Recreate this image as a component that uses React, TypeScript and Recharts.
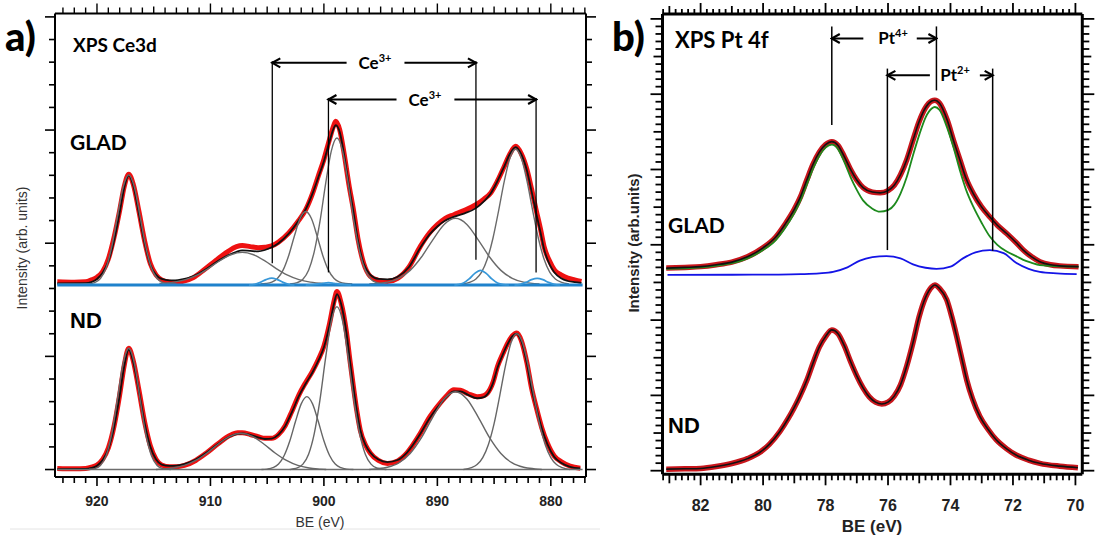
import { ComposedChart, Line, XAxis, YAxis, ReferenceLine } from 'recharts'

type P = [number, number]
const toPts = (a: P[]) => a.map(([x, y]) => ({ x, y }))

// ---------- panel a: XPS Ce3d (BE in eV, intensity in arb. units) ----------
const ceGladData: P[] = [
  [923.5, 8.3], [922, 8.28], [921, 8.3], [920.5, 8.38], [920, 8.5], [919.5, 8.75], [919, 9.3], [918.5, 10.25], [918, 11.45],
  [917.6, 12.5], [917.2, 13.05], [916.8, 12.6], [916.3, 11.4], [915.8, 10.1], [915.3, 9.1], [914.8, 8.6], [914.3, 8.38],
  [913.6, 8.28], [913.1, 8.25], [912.5, 8.3], [911.5, 8.48], [910.5, 8.85], [909.5, 9.25], [908.5, 9.62], [907.7, 9.85],
  [907.2, 9.9], [906.5, 9.85], [905.8, 9.8], [905.2, 9.82], [904.6, 9.88], [904, 10.05], [903.1, 10.45], [902.3, 10.95],
  [901.6, 11.48], [901, 12.2], [900.5, 12.96], [900, 13.7], [899.5, 14.6], [899.1, 15.25], [898.95, 15.39], [898.6, 15.0],
  [898.2, 13.9], [897.8, 12.6], [897.4, 11.48], [897, 10.2], [896.5, 9.12], [895.9, 8.53], [895.2, 8.36], [894.4, 8.31],
  [893.5, 8.45], [892.5, 8.95], [891.5, 9.86], [890.7, 10.45], [890, 10.82], [889.3, 11.1], [888.55, 11.26], [887.6, 11.45],
  [886.6, 11.7], [885.9, 11.95], [885.3, 12.22], [884.7, 12.75], [884.1, 13.4], [883.6, 13.95], [883.1, 14.28], [882.6, 13.95],
  [882.1, 13.25], [881.7, 12.4], [881.3, 11.48], [880.9, 10.6], [880.6, 9.86], [880.1, 9.2], [879.7, 8.83], [879.1, 8.6],
  [878.5, 8.46], [877.9, 8.38], [877.3, 8.31],
]
const ceGladFit: P[] = [
  [923.5, 8.22], [921, 8.23], [920.5, 8.28], [920, 8.42], [919.5, 8.7], [919, 9.2], [918.5, 10.1], [918, 11.35],
  [917.6, 12.45], [917.2, 13.0], [916.8, 12.55], [916.3, 11.3], [915.8, 10.0], [915.3, 9.05], [914.8, 8.6], [914.3, 8.42],
  [913.6, 8.36], [913.1, 8.36], [912.5, 8.4], [911.5, 8.55], [910.5, 8.82], [909.5, 9.16], [908.5, 9.45], [907.7, 9.62],
  [907.2, 9.68], [906.5, 9.66], [905.8, 9.64], [905.2, 9.7], [904.6, 9.82], [904, 10.0], [903.1, 10.42], [902.3, 10.95],
  [901.6, 11.5], [901, 12.2], [900.5, 12.9], [900, 13.62], [899.5, 14.5], [899.1, 15.12], [898.95, 15.22], [898.6, 14.9],
  [898.2, 13.85], [897.8, 12.55], [897.4, 11.4], [897, 10.12], [896.5, 9.1], [895.9, 8.6], [895.2, 8.42], [894.4, 8.4],
  [893.5, 8.52], [892.5, 8.95], [891.5, 9.8], [890.7, 10.38], [890, 10.74], [889.3, 11.0], [888.55, 11.16], [887.6, 11.32],
  [886.6, 11.55], [885.9, 11.85], [885.3, 12.2], [884.7, 12.75], [884.1, 13.4], [883.6, 13.95], [883.1, 14.25],
  [882.6, 13.92], [882.1, 13.2], [881.7, 12.3], [881.3, 11.35], [880.9, 10.45], [880.6, 9.75], [880.1, 9.05], [879.7, 8.72],
  [879.1, 8.45], [878.5, 8.33], [877.9, 8.28], [877.3, 8.25],
]
const ceGladPeaks: P[][] = [
  [[923.5, 8.2], [920.7, 8.21], [920.2, 8.26], [919.7, 8.44], [919.2, 8.9], [918.7, 9.84], [918.2, 11.18], [917.7, 12.47],
    [917.2, 13.02], [916.7, 12.47], [916.2, 11.18], [915.7, 9.84], [915.2, 8.9], [914.7, 8.44], [914.2, 8.26], [913.7, 8.21],
    [913, 8.2]],
  [[914.5, 8.22], [913.2, 8.28], [912.2, 8.39], [911.2, 8.59], [910.2, 8.88], [909.2, 9.22], [908.2, 9.49], [907.2, 9.6],
    [906.2, 9.49], [905.2, 9.22], [904.2, 8.88], [903.2, 8.59], [902.2, 8.39], [901.2, 8.28], [900, 8.22]],
  [[905.6, 8.2], [905.1, 8.22], [904.6, 8.28], [904.1, 8.44], [903.6, 8.81], [903.1, 9.46], [902.6, 10.32], [902.1, 11.09],
    [901.6, 11.4], [901.1, 11.09], [900.6, 10.32], [900.1, 9.46], [899.6, 8.81], [899.1, 8.44], [898.6, 8.28], [898.1, 8.22],
    [897.5, 8.2]],
  [[903, 8.2], [902.35, 8.26], [901.85, 8.41], [901.35, 8.81], [900.85, 9.63], [900.35, 10.95], [899.85, 12.62],
    [899.35, 14.07], [898.85, 14.65], [898.35, 14.07], [897.85, 12.62], [897.35, 10.95], [896.85, 9.63], [896.35, 8.81],
    [895.85, 8.41], [895.35, 8.26], [894.7, 8.2]],
  [[896, 8.2], [894.4, 8.28], [893.4, 8.45], [892.4, 8.8], [891.4, 9.39], [890.4, 10.15], [889.4, 10.83], [888.4, 11.1],
    [887.4, 10.83], [886.4, 10.15], [885.4, 9.39], [884.4, 8.8], [883.4, 8.45], [882.4, 8.28], [881, 8.2]],
  [[887.8, 8.2], [887.1, 8.28], [886.6, 8.42], [886.1, 8.72], [885.6, 9.3], [885.1, 10.22], [884.6, 11.44], [884.1, 12.74],
    [883.6, 13.76], [883.1, 14.15], [882.6, 13.76], [882.1, 12.74], [881.6, 11.44], [881.1, 10.22], [880.6, 9.3],
    [880.1, 8.72], [879.6, 8.42], [879.1, 8.28], [878.4, 8.2]],
]
const ceGladCe3: P[][] = [
  [[906.6, 8.15], [906.1, 8.18], [905.6, 8.27], [905.1, 8.39], [904.6, 8.46], [904.1, 8.39], [903.6, 8.27], [903.1, 8.18], [902.6, 8.15]],
  [[901.6, 8.15], [900.6, 8.19], [900.1, 8.23], [899.6, 8.26], [899.1, 8.23], [898.6, 8.19], [897.6, 8.15]],
  [[888.5, 8.15], [888.2, 8.17], [887.7, 8.24], [887.2, 8.42], [886.7, 8.67], [886.2, 8.8], [885.7, 8.67], [885.2, 8.42],
    [884.7, 8.24], [884.2, 8.17], [883.7, 8.15]],
  [[883.2, 8.15], [882.7, 8.18], [882.2, 8.27], [881.7, 8.39], [881.2, 8.45], [880.7, 8.39], [880.2, 8.27], [879.7, 8.18], [879.2, 8.15]],
]
const ceGladBase: P[] = [[923.5, 8.15], [877.2, 8.15]]

const ceNdData: P[] = [
  [923.5, 0.05], [922, 0.03], [921, 0.05], [920.5, 0.1], [920, 0.2], [919.5, 0.45], [919, 0.95], [918.5, 1.9], [918, 3.3],
  [917.6, 4.6], [917.2, 5.36], [916.8, 4.8], [916.3, 3.5], [915.8, 2.1], [915.3, 1.05], [914.8, 0.45], [914.3, 0.2],
  [913.6, 0.12], [913, 0.12], [912.3, 0.18], [911.3, 0.4], [910.3, 0.75], [909.3, 1.15], [908.3, 1.5], [907.6, 1.62],
  [907.2, 1.62], [906.5, 1.55], [905.8, 1.45], [905.2, 1.38], [904.6, 1.38], [904, 1.55], [903.4, 1.95], [902.8, 2.6],
  [902.2, 3.3], [901.6, 3.85], [901, 4.35], [900.5, 4.85], [900, 5.45], [899.5, 6.45], [899.1, 7.45], [898.85, 7.87],
  [898.5, 7.4], [898, 6.03], [897.7, 4.8], [897.4, 3.66], [897.1, 2.6], [896.8, 1.75], [896.3, 1.05], [895.9, 0.72],
  [895.2, 0.4], [894.4, 0.27], [893.5, 0.38], [892.7, 0.72], [891.5, 1.6], [890.7, 2.3], [890, 2.78], [889.2, 3.25],
  [888.55, 3.52], [887.97, 3.5], [887.3, 3.35], [886.5, 3.22], [885.9, 3.27], [885.6, 3.37], [885.1, 3.85], [884.7, 4.55],
  [884.2, 5.15], [883.8, 5.58], [883.4, 5.9], [883.0, 6.03], [882.6, 5.7], [882.1, 4.7], [881.7, 3.6], [881.3, 2.78],
  [880.8, 1.85], [880.3, 1.16], [879.7, 0.6], [879.1, 0.35], [878.3, 0.15], [877.4, 0.06],
]
const ceNdFit: P[] = [
  [923.5, 0.02], [921, 0.03], [920.5, 0.07], [920, 0.17], [919.5, 0.42], [919, 0.9], [918.5, 1.85], [918, 3.25],
  [917.6, 4.55], [917.2, 5.3], [916.8, 4.75], [916.3, 3.45], [915.8, 2.05], [915.3, 1.02], [914.8, 0.45], [914.3, 0.22],
  [913.6, 0.16], [913, 0.17], [912.3, 0.24], [911.3, 0.44], [910.3, 0.76], [909.3, 1.14], [908.3, 1.46], [907.6, 1.58],
  [907.2, 1.6], [906.5, 1.53], [905.8, 1.42], [905.2, 1.35], [904.6, 1.37], [904, 1.54], [903.4, 1.93], [902.8, 2.56],
  [902.2, 3.25], [901.6, 3.8], [901, 4.3], [900.5, 4.8], [900, 5.4], [899.5, 6.38], [899.1, 7.35], [898.85, 7.75],
  [898.5, 7.35], [898, 6.0], [897.7, 4.78], [897.4, 3.64], [897.1, 2.6], [896.8, 1.76], [896.3, 1.06], [895.9, 0.74],
  [895.2, 0.44], [894.4, 0.33], [893.5, 0.42], [892.7, 0.74], [891.5, 1.58], [890.7, 2.26], [890, 2.74], [889.2, 3.2],
  [888.55, 3.45], [887.97, 3.45], [887.3, 3.3], [886.5, 3.15], [885.9, 3.2], [885.6, 3.32], [885.1, 3.82], [884.7, 4.5],
  [884.2, 5.12], [883.8, 5.55], [883.4, 5.88], [883.0, 6.0], [882.6, 5.68], [882.1, 4.68], [881.7, 3.58], [881.3, 2.75],
  [880.8, 1.82], [880.3, 1.12], [879.7, 0.56], [879.1, 0.3], [878.3, 0.12], [877.4, 0.05],
]
const ceNdPeaks: P[][] = [
  [[920.7, 0.01], [920.2, 0.04], [919.7, 0.18], [919.2, 0.61], [918.7, 1.58], [918.2, 3.11], [917.7, 4.68], [917.2, 5.36],
    [916.7, 4.68], [916.2, 3.11], [915.7, 1.58], [915.2, 0.61], [914.7, 0.18], [914.2, 0.04], [913.5, 0]],
  [[914.8, 0], [914.3, 0.02], [913.3, 0.07], [912.3, 0.18], [911.3, 0.4], [910.3, 0.73], [909.3, 1.13], [908.3, 1.47],
    [907.3, 1.6], [906.3, 1.47], [905.3, 1.13], [904.3, 0.73], [903.3, 0.4], [902.3, 0.18], [901.3, 0.07], [900.3, 0.02],
    [899.8, 0]],
  [[905.5, 0], [905, 0.02], [904.5, 0.08], [904, 0.24], [903.5, 0.62], [903, 1.27], [902.5, 2.13], [902, 2.9], [901.5, 3.22],
    [901, 2.9], [900.5, 2.13], [900, 1.27], [899.5, 0.62], [899, 0.24], [898.5, 0.08], [898, 0.02], [897.4, 0]],
  [[903, 0], [902.85, 0.02], [902.35, 0.07], [901.85, 0.24], [901.35, 0.68], [900.85, 1.59], [900.35, 3.07], [899.85, 4.93],
    [899.35, 6.55], [898.85, 7.2], [898.35, 6.55], [897.85, 4.93], [897.35, 3.07], [896.85, 1.59], [896.35, 0.68],
    [895.85, 0.24], [895.35, 0.07], [894.85, 0.02], [894.5, 0]],
  [[896, 0], [895.4, 0.03], [894.4, 0.1], [893.4, 0.29], [892.4, 0.71], [891.4, 1.41], [890.4, 2.32], [889.4, 3.12],
    [888.4, 3.44], [887.4, 3.12], [886.4, 2.32], [885.4, 1.41], [884.4, 0.71], [883.4, 0.29], [882.4, 0.1], [881.4, 0.03],
    [880.8, 0]],
  [[887.7, 0], [887, 0.08], [886.5, 0.22], [886, 0.53], [885.5, 1.11], [885, 2.03], [884.5, 3.27], [884, 4.58], [883.5, 5.61],
    [883, 6.0], [882.5, 5.61], [882, 4.58], [881.5, 3.27], [881, 2.03], [880.5, 1.11], [880, 0.53], [879.5, 0.22],
    [879, 0.08], [878.3, 0]],
]
const ceNdBase: P[] = [[923.5, 0], [877.2, 0]]

// Ce3+ markers: [BE, top], with bottoms alongside
const ceMarkers: P[] = [[904.55, 18.04], [886.6, 18.04], [899.6, 16.42], [881.3, 16.42]]
const ceMarkerBottoms = [9.12, 9.27, 8.71, 8.71]
// arrow segments: [from BE, to BE, level]
const ceArrows: [number, number, number][] = [
  [898.0, 904.55, 17.97], [892.9, 886.6, 17.97], [893.6, 899.6, 16.35], [888.5, 881.3, 16.35],
]

// ---------- panel b: XPS Pt 4f ----------
const ptGlad: P[] = [
  [83.1, 26.9], [82.5, 27.0], [82, 27.1], [81.5, 27.35], [81, 27.7], [80.5, 28.4], [80, 29.6], [79.6, 31.0], [79.3, 32.7],
  [79, 34.7], [78.8, 36.4], [78.6, 38.6], [78.4, 40.7], [78.2, 42.3], [78, 43.3], [77.8, 43.7], [77.6, 43.2], [77.4, 41.7],
  [77.2, 40.0], [77, 38.6], [76.8, 37.6], [76.5, 37.0], [76.25, 36.9], [76, 37.2], [75.8, 37.9], [75.6, 39.3], [75.4, 41.3],
  [75.2, 43.9], [75, 46.4], [74.8, 48.2], [74.6, 49.1], [74.5, 49.2], [74.35, 48.8], [74.1, 46.5], [73.9, 43.8], [73.7, 41.3],
  [73.5, 38.8], [73.27, 36.8], [73, 35.0], [72.74, 33.7], [72.5, 32.6], [72.2, 31.5], [71.9, 30.3], [71.67, 29.3],
  [71.4, 28.4], [71.14, 27.76], [70.8, 27.35], [70.5, 27.2], [69.9, 27.1],
]
const ptGladPt4: P[] = [
  [83.1, 26.8], [82, 27.0], [81, 27.55], [80.5, 28.2], [80, 29.3], [79.6, 30.6], [79.3, 32.2], [79, 34.2], [78.8, 35.9],
  [78.6, 38.0], [78.4, 40.1], [78.2, 41.8], [78, 42.9], [77.8, 43.3], [77.6, 42.7], [77.4, 41.0], [77.2, 39.0], [77, 37.3],
  [76.8, 35.9], [76.5, 34.8], [76.26, 34.4], [76, 34.6], [75.8, 35.3], [75.6, 36.8], [75.4, 39.0], [75.2, 41.9], [75, 44.6],
  [74.8, 46.9], [74.6, 48.1], [74.5, 48.3], [74.35, 47.9], [74.12, 45.7], [73.9, 42.9], [73.7, 39.9], [73.5, 37.3],
  [73.27, 35.06], [73, 32.9], [72.74, 31.1], [72.5, 30.0], [72.2, 29.1], [71.9, 28.5], [71.67, 28.0], [71.4, 27.6],
  [71.14, 27.3], [70.8, 27.2], [70.5, 27.15], [69.9, 27.1],
]
const ptGladPt2: P[] = [
  [83.06, 26.0], [81, 26.02], [79.5, 26.05], [78.8, 26.1], [78.2, 26.2], [77.76, 26.4], [77.3, 27.0], [76.9, 27.9],
  [76.5, 28.35], [76.05, 28.5], [75.6, 28.2], [75.2, 27.4], [74.8, 26.95], [74.45, 26.8], [74.0, 27.1], [73.6, 28.2],
  [73.2, 29.0], [72.74, 29.3], [72.3, 28.9], [71.9, 27.6], [71.5, 26.8], [71.14, 26.4], [70.6, 26.2], [69.96, 26.1],
]
const ptNd: P[] = [
  [83.1, 0.2], [82.5, 0.25], [82, 0.3], [81.5, 0.55], [81, 0.95], [80.5, 1.6], [80.1, 2.45], [79.8, 3.5], [79.46, 5.2],
  [79.2, 6.9], [79, 8.4], [78.82, 9.9], [78.6, 12.0], [78.4, 14.3], [78.2, 16.4], [78, 17.8], [77.8, 18.7], [77.6, 18.2],
  [77.4, 16.6], [77.2, 14.5], [77, 12.6], [76.8, 11.0], [76.6, 9.8], [76.4, 9.1], [76.2, 8.86], [76, 9.1], [75.8, 9.9],
  [75.6, 11.4], [75.4, 13.9], [75.2, 17.0], [75, 20.5], [74.8, 23.0], [74.6, 24.4], [74.5, 24.66], [74.35, 24.2],
  [74.12, 22.7], [73.95, 20.3], [73.8, 17.8], [73.6, 14.2], [73.48, 12.05], [73.3, 9.6], [73.06, 7.2], [72.8, 5.5],
  [72.53, 4.08], [72.2, 2.9], [71.9, 2.08], [71.5, 1.4], [71.14, 0.98], [70.5, 0.6], [69.92, 0.4],
]
const ptMarkers: P[] = [[77.8, 59.0], [74.45, 59.0], [76.02, 53.4], [72.65, 53.4]]
const ptMarkerBottoms = [45.9, 50.5, 29.3, 29.2]
const ptArrows: [number, number, number][] = [
  [76.79, 77.8, 57.4], [75.08, 74.45, 57.4], [74.66, 76.02, 52.5], [73.06, 72.65, 52.5],
]

// ticks
const ceTicksX = Array.from({ length: 47 }, (_, i) => 877 + i)
const ceTicksY = Array.from({ length: 21 }, (_, i) => i)
const ptTicksX = Array.from({ length: 67 }, (_, i) => Math.round((70 + i * 0.2) * 10) / 10)
const ptTicksY = Array.from({ length: 61 }, (_, i) => i)

const SANS = '"Liberation Sans", Arial, sans-serif'
const HUMAN = 'Lato, "Open Sans", sans-serif'

type Kind = (v: number) => number

const kindCeX: Kind = (v) => (v % 10 === 0 ? 2 : v % 5 === 0 ? 1 : 0)
const kindCeY: Kind = (v) => (v % 5 === 0 ? 2 : 0)
const kindPtX: Kind = (v) => {
  const t = Math.round(v * 10)
  return t % 20 === 0 ? 2 : t % 10 === 0 ? 1 : 0
}
const kindPtY: Kind = (v) => (v % 10 === 0 ? 2 : v % 5 === 0 ? 1 : 0)

function AxisTick(props: any) {
  const { x, y, payload, side, kind, lens, label, labelDy, fontSize, sw } = props
  const k = kind(payload.value)
  const len = lens[k]
  let x2 = x
  let y2 = y
  if (side === 'bottom') y2 = y + len
  if (side === 'top') y2 = y - len
  if (side === 'left') x2 = x - len
  if (side === 'right') x2 = x + len
  return (
    <g>
      <line x1={x} y1={y} x2={x2} y2={y2} stroke="#000" strokeWidth={sw} />
      {label && k === 2 && (
        <text x={x} y={y + labelDy} textAnchor="middle" fontFamily={SANS} fontWeight="bold" fontSize={fontSize} fill="#222">
          {Math.round(payload.value)}
        </text>
      )}
    </g>
  )
}

const arrowShape = (p: any) => (
  <line x1={p.x1} y1={p.y1} x2={p.x2} y2={p.y2} stroke="#000" strokeWidth={2} markerEnd="url(#chev)" />
)

function CePanel() {
  const axisLine = { stroke: '#000', strokeWidth: 2 }
  const common = { isAnimationActive: false, dot: false, type: 'monotone' as const, dataKey: 'y', xAxisId: 'b', yAxisId: 'l' }
  return (
    <ComposedChart width={600} height={537} margin={{ top: 12.5, left: 54, right: 13, bottom: 59 }}>
      <XAxis xAxisId="b" type="number" dataKey="x" domain={[876.9, 923.7]} reversed allowDataOverflow ticks={ceTicksX}
        interval={0} height={1} tickSize={0} tickMargin={0} tickLine={false} axisLine={axisLine}
        tick={(p: any) => <AxisTick {...p} side="bottom" kind={kindCeX} lens={[6, 7, 9]} label labelDy={29} fontSize={14} sw={1.6} />} />
      <XAxis xAxisId="t" orientation="top" type="number" dataKey="x" domain={[876.9, 923.7]} reversed allowDataOverflow
        ticks={ceTicksX} interval={0} height={1} tickSize={0} tickMargin={0} tickLine={false} axisLine={axisLine}
        tick={(p: any) => <AxisTick {...p} side="top" kind={kindCeX} lens={[6, 7, 10]} sw={1.4} />} />
      <YAxis yAxisId="l" type="number" domain={[-0.33, 20.15]} allowDataOverflow ticks={ceTicksY} interval={0} width={1}
        tickSize={0} tickMargin={0} tickLine={false} axisLine={axisLine}
        tick={(p: any) => <AxisTick {...p} side="left" kind={kindCeY} lens={[6, 6, 10]} sw={1.6} />} />
      <YAxis yAxisId="r" orientation="right" type="number" domain={[-0.33, 20.15]} allowDataOverflow ticks={ceTicksY}
        interval={0} width={1} tickSize={0} tickMargin={0} tickLine={false} axisLine={axisLine}
        tick={(p: any) => <AxisTick {...p} side="right" kind={kindCeY} lens={[6, 6, 10]} sw={1.6} />} />

      <Line {...common} data={toPts(ceGladData)} stroke="#ee1111" strokeWidth={5} strokeLinejoin="round" />
      <Line {...common} data={toPts(ceNdData)} stroke="#ee1111" strokeWidth={5} strokeLinejoin="round" />
      <Line {...common} data={toPts(ceGladFit)} stroke="#111" strokeWidth={1.8} />
      <Line {...common} data={toPts(ceNdFit)} stroke="#111" strokeWidth={1.8} />
      <Line {...common} type="linear" data={toPts(ceNdBase)} stroke="#6d6d6d" strokeWidth={1.6} />
      {ceGladPeaks.map((pk, i) => (
        <Line key={'g' + i} {...common} data={toPts(pk)} stroke="#6a6a6a" strokeWidth={1.4} />
      ))}
      {ceNdPeaks.map((pk, i) => (
        <Line key={'n' + i} {...common} data={toPts(pk)} stroke="#666" strokeWidth={1.4} />
      ))}
      <Line {...common} type="linear" data={toPts(ceGladBase)} stroke="#1f82cc" strokeWidth={3} />
      {ceGladCe3.map((pk, i) => (
        <Line key={'c' + i} {...common} data={toPts(pk)} stroke="#3797d8" strokeWidth={1.7} />
      ))}

      {ceMarkers.map(([be, top], i) => (
        <ReferenceLine key={'m' + i} xAxisId="b" yAxisId="l" segment={[{ x: be, y: top }, { x: be, y: ceMarkerBottoms[i] }]}
          stroke="#000" strokeWidth={1.3} />
      ))}
      {ceArrows.map(([from, to, lvl], i) => (
        <ReferenceLine key={'a' + i} xAxisId="b" yAxisId="l" segment={[{ x: from, y: lvl }, { x: to, y: lvl }]} shape={arrowShape} />
      ))}
    </ComposedChart>
  )
}

function PtPanel() {
  const axisLine = { stroke: '#000', strokeWidth: 3 }
  const common = { isAnimationActive: false, dot: false, type: 'monotone' as const, dataKey: 'y', xAxisId: 'b', yAxisId: 'l' }
  return (
    <ComposedChart width={495} height={537} margin={{ top: 13, left: 61.5, right: 11.7, bottom: 61.7 }}>
      <XAxis xAxisId="b" type="number" dataKey="x" domain={[69.78, 83.22]} reversed allowDataOverflow ticks={ptTicksX}
        interval={0} height={1} tickSize={0} tickMargin={0} tickLine={false} axisLine={axisLine}
        tick={(p: any) => <AxisTick {...p} side="bottom" kind={kindPtX} lens={[6, 9, 11]} label labelDy={36.5} fontSize={16} sw={1.8} />} />
      <XAxis xAxisId="t" orientation="top" type="number" dataKey="x" domain={[69.78, 83.22]} reversed allowDataOverflow
        ticks={ptTicksX} interval={0} height={1} tickSize={0} tickMargin={0} tickLine={false} axisLine={axisLine}
        tick={(p: any) => <AxisTick {...p} side="top" kind={kindPtX} lens={[5, 8, 11]} sw={1.8} />} />
      <YAxis yAxisId="l" type="number" domain={[-0.48, 60.65]} allowDataOverflow ticks={ptTicksY} interval={0} width={1}
        tickSize={0} tickMargin={0} tickLine={false} axisLine={axisLine}
        tick={(p: any) => <AxisTick {...p} side="left" kind={kindPtY} lens={[7, 9, 12]} sw={1.8} />} />
      <YAxis yAxisId="r" orientation="right" type="number" domain={[-0.48, 60.65]} allowDataOverflow ticks={ptTicksY}
        interval={0} width={1} tickSize={0} tickMargin={0} tickLine={false} axisLine={axisLine}
        tick={(p: any) => <AxisTick {...p} side="right" kind={kindPtY} lens={[7, 9, 12]} sw={1.8} />} />

      <Line {...common} data={toPts(ptGlad)} stroke="#c8161c" strokeWidth={5.5} strokeLinejoin="round" />
      <Line {...common} data={toPts(ptNd)} stroke="#c8161c" strokeWidth={5.5} strokeLinejoin="round" />
      <Line {...common} data={toPts(ptGladPt4)} stroke="#1d8a1d" strokeWidth={1.8} />
      <Line {...common} data={toPts(ptGlad)} stroke="#111" strokeWidth={1.6} />
      <Line {...common} data={toPts(ptNd)} stroke="#111" strokeWidth={1.6} />
      <Line {...common} data={toPts(ptGladPt2)} stroke="#1414e6" strokeWidth={1.8} />

      {ptMarkers.map(([be, top], i) => (
        <ReferenceLine key={'m' + i} xAxisId="b" yAxisId="l" segment={[{ x: be, y: top }, { x: be, y: ptMarkerBottoms[i] }]}
          stroke="#000" strokeWidth={1.5} />
      ))}
      {ptArrows.map(([from, to, lvl], i) => (
        <ReferenceLine key={'a' + i} xAxisId="b" yAxisId="l" segment={[{ x: from, y: lvl }, { x: to, y: lvl }]} shape={arrowShape} />
      ))}
    </ComposedChart>
  )
}

export default function App() {
  return (
    <div style={{ position: 'absolute', left: 0, top: 0, width: 1095, height: 537, background: '#fff', overflow: 'hidden' }}>
      <svg width={0} height={0} style={{ position: 'absolute' }}>
        <defs>
          <marker id="chev" markerUnits="userSpaceOnUse" markerWidth={12} markerHeight={12} refX={10} refY={6} orient="auto">
            <path d="M2,1.5 L10,6 L2,10.5" fill="none" stroke="#000" strokeWidth={2.2} />
          </marker>
        </defs>
      </svg>
      <div style={{ position: 'absolute', left: 0, top: 0 }}>
        <CePanel />
      </div>
      <div style={{ position: 'absolute', left: 600, top: 0 }}>
        <PtPanel />
      </div>
      <svg width={1095} height={537} style={{ position: 'absolute', left: 0, top: 0, pointerEvents: 'none' }}>
        <line x1={10} y1={529} x2={600} y2={529} stroke="#e4e4e4" strokeWidth={1} />
        <text x={5} y={51} fontFamily={HUMAN} fontWeight="900" fontSize={40} fill="#000">a)</text>
        <text x={73} y={52} fontFamily={HUMAN} fontWeight="bold" fontSize={19} fill="#000">XPS Ce3d</text>
        <text x={70} y={150} fontFamily={HUMAN} fontWeight="bold" fontSize={21} fill="#000">GLAD</text>
        <text x={70} y={328} fontFamily={SANS} fontWeight="bold" fontSize={22} fill="#000">ND</text>
        <text x={375} y={69} textAnchor="middle" fontFamily={HUMAN} fontWeight="bold" fontSize={17} fill="#000">
          Ce<tspan fontSize={11} dy={-7}>3+</tspan>
        </text>
        <text x={425} y={106} textAnchor="middle" fontFamily={HUMAN} fontWeight="bold" fontSize={17} fill="#000">
          Ce<tspan fontSize={11} dy={-7}>3+</tspan>
        </text>
        <text transform="translate(27,248) rotate(-90)" textAnchor="middle" fontFamily={SANS} fontSize={14} fill="#333">
          Intensity (arb. units)
        </text>
        <text x={320} y={527} textAnchor="middle" fontFamily={SANS} fontSize={14} fill="#333">BE (eV)</text>

        <text x={612} y={51} fontFamily={HUMAN} fontWeight="900" fontSize={40} fill="#000">b)</text>
        <text x={675} y={48} fontFamily={HUMAN} fontWeight="bold" fontSize={22} fill="#000">XPS Pt 4f</text>
        <text x={668} y={233} fontFamily={HUMAN} fontWeight="bold" fontSize={21} fill="#000">GLAD</text>
        <text x={668} y={433} fontFamily={SANS} fontWeight="bold" fontSize={22} fill="#000">ND</text>
        <text x={893} y={44} textAnchor="middle" fontFamily={HUMAN} fontWeight="bold" fontSize={17} fill="#000">
          Pt<tspan fontSize={11} dy={-7}>4+</tspan>
        </text>
        <text x={955} y={81} textAnchor="middle" fontFamily={HUMAN} fontWeight="bold" fontSize={17} fill="#000">
          Pt<tspan fontSize={11} dy={-7}>2+</tspan>
        </text>
        <text transform="translate(639,243) rotate(-90)" textAnchor="middle" fontFamily={SANS} fontWeight="bold" fontSize={15} fill="#222">
          Intensity (arb.units)
        </text>
        <text x={872} y={532} textAnchor="middle" fontFamily={SANS} fontWeight="bold" fontSize={17} fill="#222">BE (eV)</text>
      </svg>
    </div>
  )
}
